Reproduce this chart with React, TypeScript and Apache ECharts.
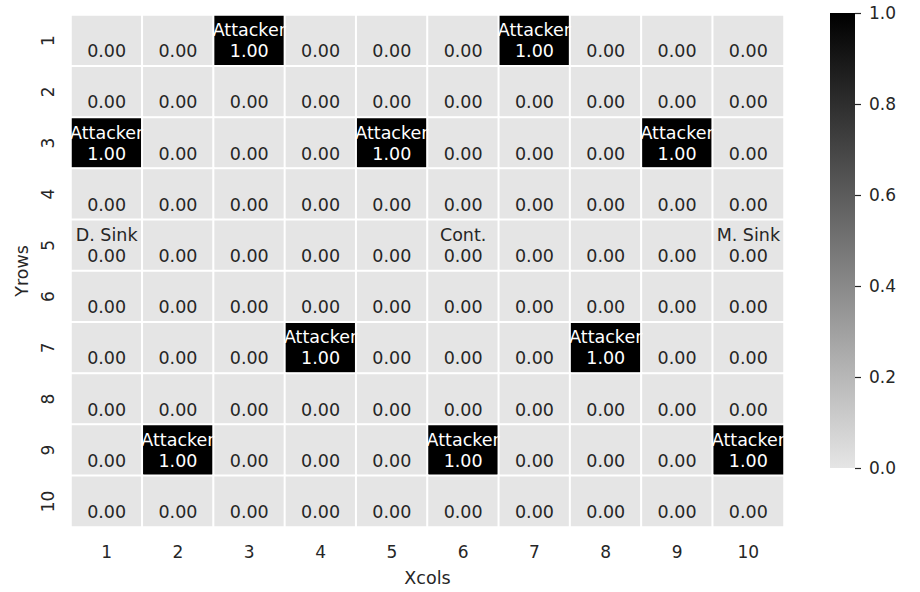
import React, { useEffect, useRef } from "react";
import * as echarts from "echarts";

const X_LABELS = ["1", "2", "3", "4", "5", "6", "7", "8", "9", "10"];
const Y_LABELS = ["1", "2", "3", "4", "5", "6", "7", "8", "9", "10"];

const VALUES: number[][] = [
  [0, 0, 1, 0, 0, 0, 1, 0, 0, 0],
  [0, 0, 0, 0, 0, 0, 0, 0, 0, 0],
  [1, 0, 0, 0, 1, 0, 0, 0, 1, 0],
  [0, 0, 0, 0, 0, 0, 0, 0, 0, 0],
  [0, 0, 0, 0, 0, 0, 0, 0, 0, 0],
  [0, 0, 0, 0, 0, 0, 0, 0, 0, 0],
  [0, 0, 0, 1, 0, 0, 0, 1, 0, 0],
  [0, 0, 0, 0, 0, 0, 0, 0, 0, 0],
  [0, 1, 0, 0, 0, 1, 0, 0, 0, 1],
  [0, 0, 0, 0, 0, 0, 0, 0, 0, 0],
];

const A = "Attacker";
const NAMES: string[][] = [
  ["", "", A, "", "", "", A, "", "", ""],
  ["", "", "", "", "", "", "", "", "", ""],
  [A, "", "", "", A, "", "", "", A, ""],
  ["", "", "", "", "", "", "", "", "", ""],
  ["D. Sink", "", "", "", "", "Cont.", "", "", "", "M. Sink"],
  ["", "", "", "", "", "", "", "", "", ""],
  ["", "", "", A, "", "", "", A, "", ""],
  ["", "", "", "", "", "", "", "", "", ""],
  ["", A, "", "", "", A, "", "", "", A],
  ["", "", "", "", "", "", "", "", "", ""],
];

const COLORBAR_MIN = 0;
const COLORBAR_MAX = 1;
const COLORBAR_STEP = 0.2;

const FONT = "DejaVu Sans";
const TEXT = "#262626";
const LOW = "#e5e5e5";
const HIGH = "#000000";

export default function App() {
  const ref = useRef<HTMLDivElement>(null);
  useEffect(() => {
    if (!ref.current) return;
    const chart = echarts.init(ref.current, null, { renderer: "svg" });
    const data: any[] = [];
    VALUES.forEach((row, r) =>
      row.forEach((v, c) => {
        data.push({
          value: [c, r, v],
          name: NAMES[r][c],
          label: { color: v > 0.5 ? "#ffffff" : TEXT },
        });
      })
    );
    chart.setOption({
      animation: false,
      backgroundColor: "#ffffff",
      textStyle: { fontFamily: FONT },
      grid: [
        { left: 71, top: 15, width: 713, height: 515, containLabel: false },
        { left: 830, top: 13, width: 25, height: 455, containLabel: false },
      ],
      xAxis: [
        {
          type: "category",
          gridIndex: 0,
          data: X_LABELS,
          axisLine: { show: false },
          axisTick: { show: false },
          splitLine: { show: false },
          splitArea: { show: false },
          axisLabel: { color: TEXT, fontSize: 17, fontFamily: FONT, margin: 16 },
          name: "Xcols",
          nameLocation: "middle",
          nameGap: 42,
          nameTextStyle: { color: TEXT, fontSize: 17.5, fontFamily: FONT },
        },
        {
          type: "category",
          gridIndex: 1,
          data: ["cb"],
          show: false,
        },
      ],
      yAxis: [
        {
          type: "category",
          gridIndex: 0,
          data: Y_LABELS,
          inverse: true,
          axisLine: { show: false },
          axisTick: { show: false },
          splitLine: { show: false },
          axisLabel: {
            color: TEXT,
            fontSize: 17,
            fontFamily: FONT,
            rotate: 90,
            margin: 15,
          },
          name: "Yrows",
          nameLocation: "middle",
          nameGap: 40,
          nameRotate: 90,
          nameTextStyle: { color: TEXT, fontSize: 17.5, fontFamily: FONT },
        },
        {
          type: "value",
          gridIndex: 1,
          position: "right",
          min: COLORBAR_MIN,
          max: COLORBAR_MAX,
          interval: COLORBAR_STEP,
          axisLine: { show: false },
          axisTick: { show: true, length: 6, lineStyle: { color: TEXT, width: 1.2 } },
          splitLine: { show: false },
          axisLabel: {
            color: TEXT,
            fontSize: 17,
            fontFamily: FONT,
            margin: 14,
            formatter: (v: number) => v.toFixed(1),
          },
        },
      ],
      visualMap: {
        show: false,
        type: "continuous",
        min: COLORBAR_MIN,
        max: COLORBAR_MAX,
        seriesIndex: 0,
        dimension: 2,
        inRange: { color: [LOW, HIGH] },
      },
      series: [
        {
          type: "heatmap",
          xAxisIndex: 0,
          yAxisIndex: 0,
          data,
          itemStyle: { borderColor: "#ffffff", borderWidth: 2 },
          emphasis: { disabled: true },
          label: {
            show: true,
            fontSize: 17.5,
            fontFamily: FONT,
            lineHeight: 21,
            formatter: (p: any) => `${p.name || ""}\n${Number(p.value[2]).toFixed(2)}`,
          },
        },
        {
          type: "bar",
          xAxisIndex: 1,
          yAxisIndex: 1,
          data: [COLORBAR_MAX],
          barWidth: "100%",
          silent: true,
          itemStyle: {
            color: new echarts.graphic.LinearGradient(0, 0, 0, 1, [
              { offset: 0, color: HIGH },
              { offset: 1, color: LOW },
            ]),
          },
        },
      ],
    });
    return () => chart.dispose();
  }, []);
  return (
    <div
      ref={ref}
      style={{ position: "fixed", left: 0, top: 0, width: 920, height: 592 }}
    />
  );
}
